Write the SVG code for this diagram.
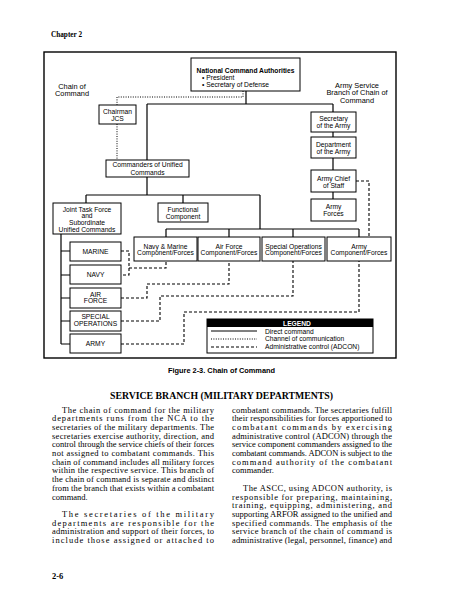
<svg xmlns="http://www.w3.org/2000/svg" width="465" height="600" viewBox="0 0 465 600">
<style>
.box{fill:#fff;stroke:#000;stroke-width:1}
.t{font-family:"Liberation Sans",Arial,sans-serif;font-size:6.7px;text-anchor:middle;fill:#000}
.tl{font-family:"Liberation Sans",Arial,sans-serif;font-size:6.7px;fill:#000}
.big{font-family:"Liberation Sans",Arial,sans-serif;font-size:7.4px;text-anchor:middle;fill:#000}
.ln{fill:none;stroke:#000;stroke-width:1.2}
.dot{fill:none;stroke:#000;stroke-width:1;stroke-dasharray:1 1.4}
.dash{fill:none;stroke:#000;stroke-width:1.1;stroke-dasharray:3 2}
.body{font-family:"Liberation Serif","Times New Roman",serif;font-size:8.5px;fill:#000}
</style>
<rect width="465" height="600" fill="#fff"/>
<text x="51" y="37" font-family="Liberation Serif,Times New Roman,serif" font-weight="bold" font-size="9" textLength="31" lengthAdjust="spacingAndGlyphs">Chapter 2</text>
<rect x="44" y="52" width="352" height="306" fill="none" stroke="#000" stroke-width="1.4"/>

<g id="connectors">
<path class="dot" d="M243,91 V97 H117 V105 M117,124 V160"/>
<path class="ln" d="M246,91 V104 M147,104 H333 M147,104 V160 M333,104 V112 M333,132 V137 M333,158 V170 M333,192 V199"/>
<path class="ln" d="M147,177 V195 M86,195 H260 M86,195 V203 M183,195 V203 M260,195 V229 M166,229 H359 M166,229 V237 M229,229 V237 M293,229 V237 M359,229 V237"/>
<path class="ln" d="M61,234 V344 M61,251 H70 M61,275 H70 M61,298 H70 M61,321 H70 M61,344 H70"/>
<path class="dash" d="M356,181 H369 V237"/>
<path class="dash" d="M121,251 H129 V275 H121 M129,268 H166 V261"/>
<path class="dash" d="M121,298 H147 V284 H229 V261"/>
<path class="dash" d="M121,321 H160 V296 H293 V261"/>
<path class="dash" d="M121,344 H184 V312 H359 V261"/>
</g>

<g id="label-chain">
<text class="big" x="72" y="88.5">Chain of</text>
<text class="big" x="72" y="96">Command</text>
</g>
<g id="label-army-service">
<text class="big" x="357" y="87.5">Army Service</text>
<text class="big" x="357" y="95">Branch of Chain of</text>
<text class="big" x="357" y="102.5">Command</text>
</g>

<g id="nca">
<rect class="box" x="191" y="58" width="109" height="33"/>
<text class="t" x="245.5" y="72.5" font-weight="bold">National Command Authorities</text>
<text class="tl" x="202" y="79.5">• President</text>
<text class="tl" x="202" y="86.5">• Secretary of Defense</text>
</g>
<g id="chairman">
<rect class="box" x="99" y="105" width="37" height="19"/>
<text class="t" x="117.5" y="113.5">Chairman</text>
<text class="t" x="117.5" y="120.5">JCS</text>
</g>
<g id="commanders">
<rect class="box" x="106" y="160" width="83" height="17"/>
<text class="t" x="147.5" y="167.3">Commanders of Unified</text>
<text class="t" x="147.5" y="174.5">Commands</text>
</g>
<g id="secretary">
<rect class="box" x="311" y="112" width="45" height="20"/>
<text class="t" x="333.5" y="121">Secretary</text>
<text class="t" x="333.5" y="128">of the Army</text>
</g>
<g id="department">
<rect class="box" x="311" y="137" width="45" height="21"/>
<text class="t" x="333.5" y="146.5">Department</text>
<text class="t" x="333.5" y="153.5">of the Army</text>
</g>
<g id="acs">
<rect class="box" x="311" y="170" width="45" height="22"/>
<text class="t" x="333.5" y="180.5">Army Chief</text>
<text class="t" x="333.5" y="187.5">of Staff</text>
</g>
<g id="army-forces">
<rect class="box" x="311" y="199" width="45" height="22"/>
<text class="t" x="333.5" y="209">Army</text>
<text class="t" x="333.5" y="216">Forces</text>
</g>
<g id="jtf">
<rect class="box" x="53" y="203" width="68" height="31"/>
<text class="t" x="87" y="211.5">Joint Task Force</text>
<text class="t" x="87" y="218.2">and</text>
<text class="t" x="87" y="224.9">Subordinate</text>
<text class="t" x="87" y="231.6">Unified Commands</text>
</g>
<g id="functional">
<rect class="box" x="158" y="203" width="50" height="19"/>
<text class="t" x="183" y="211.5">Functional</text>
<text class="t" x="183" y="218.5">Component</text>
</g>
<g id="navy-marine-comp">
<rect class="box" x="134" y="237" width="63" height="24"/>
<text class="t" x="165.5" y="248.5">Navy &amp; Marine</text>
<text class="t" x="165.5" y="255">Component/Forces</text>
</g>
<g id="air-force-comp">
<rect class="box" x="198" y="237" width="62" height="24"/>
<text class="t" x="229" y="248.5">Air Force</text>
<text class="t" x="229" y="255">Component/Forces</text>
</g>
<g id="special-ops-comp">
<rect class="box" x="262" y="237" width="63" height="24"/>
<text class="t" x="293.5" y="248.5">Special Operations</text>
<text class="t" x="293.5" y="255">Component/Forces</text>
</g>
<g id="army-comp">
<rect class="box" x="327" y="237" width="64" height="24"/>
<text class="t" x="359" y="248.5">Army</text>
<text class="t" x="359" y="255">Component/Forces</text>
</g>
<g id="marine">
<rect class="box" x="70" y="242" width="51" height="19"/>
<text class="t" x="95.5" y="254">MARINE</text>
</g>
<g id="navy">
<rect class="box" x="70" y="265" width="51" height="19"/>
<text class="t" x="95.5" y="277">NAVY</text>
</g>
<g id="air-force">
<rect class="box" x="70" y="288" width="51" height="20"/>
<text class="t" x="95.5" y="296.8">AIR</text>
<text class="t" x="95.5" y="303.2">FORCE</text>
</g>
<g id="special-ops">
<rect class="box" x="70" y="311" width="51" height="20"/>
<text class="t" x="95.5" y="319.2">SPECIAL</text>
<text class="t" x="95.5" y="325.8">OPERATIONS</text>
</g>
<g id="army">
<rect class="box" x="70" y="334" width="51" height="19"/>
<text class="t" x="95.5" y="346">ARMY</text>
</g>

<g id="legend">
<rect x="207" y="319" width="166" height="34" fill="#fff" stroke="#000" stroke-width="1"/>
<rect x="207" y="319" width="166" height="8" fill="#000"/>
<text class="t" x="297" y="325.5" font-weight="bold" style="fill:#fff">LEGEND</text>
<line class="ln" x1="211" y1="331" x2="257" y2="331" style="stroke-width:1"/>
<line class="dot" x1="211" y1="339" x2="257" y2="339"/>
<line class="dash" x1="211" y1="347" x2="257" y2="347"/>
<text class="tl" x="265" y="333.5">Direct command</text>
<text class="tl" x="265" y="341.3">Channel of communication</text>
<text class="tl" x="265" y="349.2">Administrative control (ADCON)</text>
</g>

<text x="221.5" y="372.5" font-family="Liberation Sans,Arial,sans-serif" font-weight="bold" font-size="7.4" text-anchor="middle">Figure 2-3. Chain of Command</text>

<text x="110" y="399" font-family="Liberation Serif,Times New Roman,serif" font-weight="bold" font-size="10.5" textLength="223" lengthAdjust="spacingAndGlyphs">SERVICE BRANCH (MILITARY DEPARTMENTS)</text>

<g class="body">
<text x="62" y="412.5" textLength="152" lengthAdjust="spacing">The chain of command for the military</text>
<text x="52" y="421.2" textLength="162" lengthAdjust="spacing">departments runs from the NCA to the</text>
<text x="52" y="429.9" textLength="162" lengthAdjust="spacing">secretaries of the military departments. The</text>
<text x="52" y="438.6" textLength="162" lengthAdjust="spacing">secretaries exercise authority, direction, and</text>
<text x="52" y="447.3" textLength="162" lengthAdjust="spacing">control through the service chiefs of their forces</text>
<text x="52" y="456" textLength="162" lengthAdjust="spacing">not assigned to combatant commands. This</text>
<text x="52" y="464.7" textLength="162" lengthAdjust="spacing">chain of command includes all military forces</text>
<text x="52" y="473.4" textLength="162" lengthAdjust="spacing">within the respective service. This branch of</text>
<text x="52" y="482.1" textLength="162" lengthAdjust="spacing">the chain of command is separate and distinct</text>
<text x="52" y="490.8" textLength="162" lengthAdjust="spacing">from the branch that exists within a combatant</text>
<text x="52" y="499.5">command.</text>
<text x="62" y="516.9" textLength="152" lengthAdjust="spacing">The secretaries of the military</text>
<text x="52" y="525.6" textLength="162" lengthAdjust="spacing">departments are responsible for the</text>
<text x="52" y="534.3" textLength="162" lengthAdjust="spacing">administration and support of their forces, to</text>
<text x="52" y="543" textLength="162" lengthAdjust="spacing">include those assigned or attached to</text>

<text x="232" y="412.5" textLength="160" lengthAdjust="spacing">combatant commands. The secretaries fulfill</text>
<text x="232" y="421.2" textLength="160" lengthAdjust="spacing">their responsibilities for forces apportioned to</text>
<text x="232" y="429.9" textLength="160" lengthAdjust="spacing">combatant commands by exercising</text>
<text x="232" y="438.6" textLength="160" lengthAdjust="spacing">administrative control (ADCON) through the</text>
<text x="232" y="447.3" textLength="160" lengthAdjust="spacing">service component commanders assigned to the</text>
<text x="232" y="456" textLength="160" lengthAdjust="spacing">combatant commands. ADCON is subject to the</text>
<text x="232" y="464.7" textLength="160" lengthAdjust="spacing">command authority of the combatant</text>
<text x="232" y="473.4">commander.</text>
<text x="243" y="490.8" textLength="149" lengthAdjust="spacing">The ASCC, using ADCON authority, is</text>
<text x="232" y="499.5" textLength="160" lengthAdjust="spacing">responsible for preparing, maintaining,</text>
<text x="232" y="508.2" textLength="160" lengthAdjust="spacing">training, equipping, administering, and</text>
<text x="232" y="516.9" textLength="160" lengthAdjust="spacing">supporting ARFOR assigned to the unified and</text>
<text x="232" y="525.6" textLength="160" lengthAdjust="spacing">specified commands. The emphasis of the</text>
<text x="232" y="534.3" textLength="160" lengthAdjust="spacing">service branch of the chain of command is</text>
<text x="232" y="543" textLength="160" lengthAdjust="spacing">administrative (legal, personnel, finance) and</text>
</g>

<text x="52" y="579" font-family="Liberation Serif,Times New Roman,serif" font-weight="bold" font-size="8.5">2-6</text>
</svg>
